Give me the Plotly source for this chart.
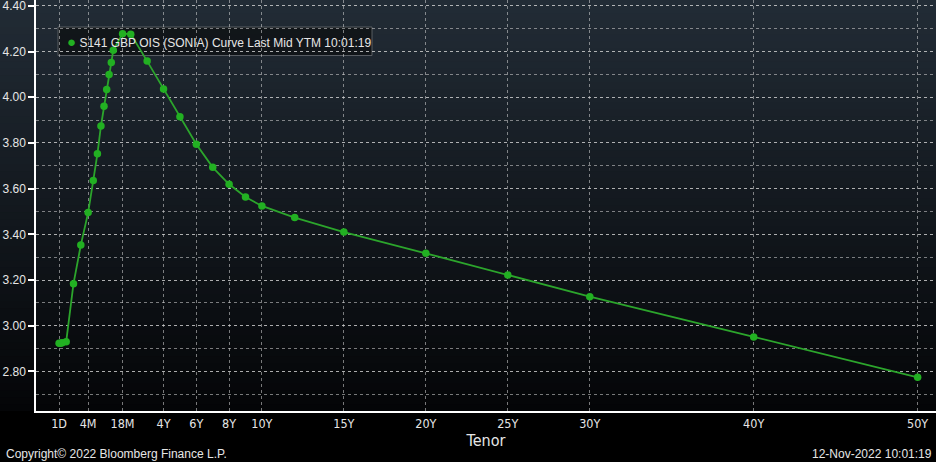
import numpy as np
import plotly.graph_objects as go

# ---- data ----
TENORS = ['1D', '1W', '2W', '1M', '2M', '3M', '4M', '5M', '6M', '7M', '8M', '9M',
          '10M', '11M', '12M', '18M', '2Y', '3Y', '4Y', '5Y', '6Y', '7Y', '8Y', '9Y',
          '10Y', '12Y', '15Y', '20Y', '25Y', '30Y', '40Y', '50Y']
YIELDS = [2.923, 2.923, 2.925, 2.930, 3.184, 3.353, 3.495, 3.635, 3.752, 3.874, 3.960, 4.034,
          4.099, 4.152, 4.205, 4.278, 4.276, 4.158, 4.036, 3.914, 3.794, 3.693, 3.619, 3.563,
          3.524, 3.473, 3.410, 3.317, 3.222, 3.127, 2.951, 2.774]
TICK_TENORS = ['1D', '4M', '18M', '4Y', '6Y', '8Y', '10Y', '15Y', '20Y', '25Y', '30Y', '40Y', '50Y']
Y_TICKS = [2.80, 3.00, 3.20, 3.40, 3.60, 3.80, 4.00, 4.20, 4.40]

SERIES_NAME = 'S141 GBP OIS (SONIA) Curve Last Mid YTM 10:01:19'
X_TITLE = 'Tenor'
COPYRIGHT = 'Copyright\u00a9 2022 Bloomberg Finance L.P.'
STAMP = '12-Nov-2022 10:01:19'

# ---- Bloomberg-style tenor axis scale ----
# linear in years from 18M on; log between 4M and 18M; linear in time below 4M
POS_1D = -2.37
POS_4M = -0.60
T_1D, T_4M, T_18M = 1 / 365, 4 / 12, 1.5


def tenor_years(s):
    n, u = float(s[:-1]), s[-1]
    return {'D': n / 365, 'W': 7 * n / 365, 'M': n / 12, 'Y': n}[u]


def tenor_pos(s):
    t = tenor_years(s)
    if t >= T_18M:
        return t
    if t >= T_4M:
        return POS_4M + (T_18M - POS_4M) * np.log(t / T_4M) / np.log(T_18M / T_4M)
    return POS_1D + (POS_4M - POS_1D) * (t - T_1D) / (T_4M - T_1D)


xpos = [tenor_pos(s) for s in TENORS]
tickpos = [tenor_pos(s) for s in TICK_TENORS]

LINE_GREEN = '#2ca52c'
MARK_GREEN = '#22b022'
GRID = 'rgba(215,215,215,0.55)'
TXT = '#e6e6e6'
FONT = 'Liberation Sans, Arial, sans-serif'
NARROW = 'Liberation Sans Narrow, Arial Narrow, DejaVu Sans Condensed, Liberation Sans, sans-serif'

# plot area in pixels: x 36..936, y 0..411
PW, PH = 900.0, 411.0


def px(x):
    return (x - 36) / PW


def py(y):
    return (411 - y) / PH


fig = go.Figure()
fig.add_trace(go.Scatter(
    x=xpos, y=YIELDS, mode='lines+markers', showlegend=False,
    line=dict(color=LINE_GREEN, width=1.8),
    marker=dict(color=MARK_GREEN, size=7.5),
    name=SERIES_NAME,
))

# background gradient (dark slate at top to near-black at the axis)
N = 60
top = np.array([34, 44, 54])
bot = np.array([4, 5, 7])
shapes = []
for i in range(N):
    f = (i + 0.5) / N
    c = bot + (top - bot) * f
    shapes.append(dict(type='rect', xref='paper', yref='paper',
                       x0=-0.05, x1=1.01, y0=i / N, y1=(i + 1) / N + 0.002,
                       fillcolor='rgb(%d,%d,%d)' % tuple(c.round().astype(int)),
                       line=dict(width=0), layer='below'))
# legend box, drawn beneath the curve as in the reference
shapes.append(dict(type='rect', xref='paper', yref='paper',
                   x0=px(58), x1=px(372), y0=py(55.5), y1=py(27),
                   fillcolor='rgba(16,20,24,0.93)',
                   line=dict(color='rgba(95,100,105,0.9)', width=1), layer='between'))

fig.update_layout(
    width=936, height=462,
    margin=dict(l=36, r=0, t=0, b=51),
    paper_bgcolor='black', plot_bgcolor='rgba(0,0,0,0)',
    shapes=shapes,
    showlegend=False,
    font=dict(family=FONT, color=TXT, size=12),
    xaxis=dict(
        range=[-3.78, 51.12], tickmode='array', tickvals=tickpos, ticktext=TICK_TENORS,
        automargin=False,
        showgrid=True, gridcolor=GRID, griddash='dot', gridwidth=1,
        showline=True, linecolor='white', linewidth=1.5, zeroline=False, ticks='',
        tickfont=dict(family=NARROW, size=12.5, color=TXT),
        title=dict(text=X_TITLE, standoff=3, font=dict(family=NARROW, size=16, color=TXT)),
    ),
    yaxis=dict(
        range=[2.6267, 4.4254], tickmode='array', tickvals=Y_TICKS,
        ticktext=['%.2f' % v for v in Y_TICKS],
        automargin=False, ticklabeloverflow='allow',
        showgrid=True, gridcolor=GRID, griddash='dot', gridwidth=1,
        minor=dict(dtick=0.1, tick0=2.7, showgrid=True, gridcolor=GRID, griddash='dot',
                   gridwidth=1, ticks=''),
        showline=True, linecolor='white', linewidth=1.5, zeroline=False,
        ticks='outside', ticklen=6, tickwidth=1.5, tickcolor='white',
        tickfont=dict(family=FONT, size=12, color=TXT),
    ),
    annotations=[
        dict(text='<span style="color:%s;font-size:15px">\u25cf</span> %s' % (MARK_GREEN, SERIES_NAME),
             xref='paper', yref='paper', x=px(65), y=py(41.5),
             xanchor='left', yanchor='middle', showarrow=False,
             font=dict(family=FONT, size=12, color=TXT)),
        dict(text=COPYRIGHT, xref='paper', yref='paper', x=px(4), y=py(454),
             xanchor='left', yanchor='middle', showarrow=False,
             font=dict(family=FONT, size=12, color=TXT)),
        dict(text=STAMP, xref='paper', yref='paper', x=px(934), y=py(454),
             xanchor='right', yanchor='middle', showarrow=False,
             font=dict(family=FONT, size=12, color=TXT)),
    ],
)

fig.write_html('out.html', config={'displayModeBar': False},
               post_script="document.body.style.margin='0';document.body.style.padding='0';"
                           "document.body.style.background='black';")
